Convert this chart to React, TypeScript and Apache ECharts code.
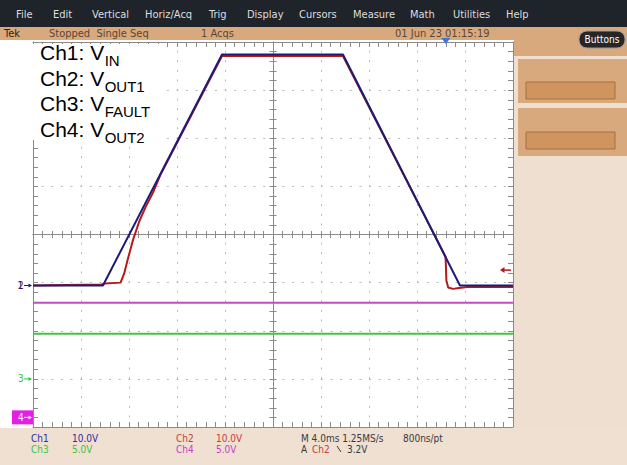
import React, { useEffect, useRef } from "react";
import * as echarts from "echarts";

// ---- Acquisition settings ----
const TIME_MIN_MS = 0;
const TIME_MAX_MS = 40;
const TIME_PER_DIV_MS = 4;
const DIV_MIN = -4;
const DIV_MAX = 4;

// ---- Channel data (time in ms, value in volts) ----
const CH1_TIME_MS = [0, 5.83, 15.75, 25.83, 35.58, 40];
const CH1_VOLTS = [0, 0, 48, 48, 0, 0];

const CH2_TIME_MS = [0, 5.7, 6.0, 7.3, 7.6, 7.85, 8.35, 8.85, 9.4, 10.0, 10.6, 15.75, 25.83, 34.38, 34.45, 34.6, 35.0, 35.5, 36.2, 40];
const CH2_VOLTS = [0, 0.2, 0.4, 0.6, 2.5, 5.0, 9.6, 13.3, 16.4, 19.3, 22.9, 47.7, 47.7, 6.0, 1.0, -0.4, -0.7, -0.5, -0.3, -0.3];

const CH3_TIME_MS = [0, 40];
const CH3_VOLTS = [4.7, 4.7];

const CH4_TIME_MS = [0, 40];
const CH4_VOLTS = [11.9, 11.9];

const CHANNEL_NAMES = ["Ch1", "Ch2", "Ch3", "Ch4"];
const VOLTS_PER_DIV = [10, 10, 5, 5];
const GROUND_DIV = [-1.06, -1.06, -3.0, -3.8];
const TRIGGER_TIME_MS = 34.4;
const TRIGGER_LEVEL_V = 3.2;
const SAMPLE_RATE = "1.25MS/s";
const RESOLUTION = "800ns/pt";

const LEGEND_MAIN = ["Ch1: V", "Ch2: V", "Ch3: V", "Ch4: V"];
const LEGEND_SUB = ["IN", "OUT1", "FAULT", "OUT2"];

const MENU_ITEMS = ["File", "Edit", "Vertical", "Horiz/Acq", "Trig", "Display", "Cursors", "Measure", "Math", "Utilities", "Help"];
const STATUS_ITEMS = ["Tek", "Stopped  Single Seq", "1 Acqs", "01 Jun 23 01:15:19"];

// ---- Layout / style ----
const MENU_X = [16, 53, 92, 145, 209, 247, 299, 353, 410, 453, 506];
const STATUS_X = [4, 49, 201, 395];
const LEGEND_BASELINES = [60, 85.5, 111, 136.5];
const TRACE_COLORS = ["#1c1c78", "#b41a1a", "#44c244", "#c24cc2"];
const TEXT_COLORS = ["#2c2ca0", "#c83c3c", "#3cc43c", "#c83cc8"];
const FRAME = "#8a8a8a";
const GRID_DOT = "#b9b9b9";
const UI_FONT = "'Liberation Sans Narrow', 'DejaVu Sans Condensed', 'Liberation Sans', sans-serif";
const LEGEND_FONT = "'Liberation Sans', Arial, sans-serif";
const MAIN_SIZE = 21;
const SUB_SIZE = 15;

const GRID = { left: 33, top: 42, width: 480, height: 385 };

function makeX(position: string, offset: number, inside: boolean, len: number, split: boolean) {
  return {
    type: "value",
    min: TIME_MIN_MS,
    max: TIME_MAX_MS,
    interval: TIME_PER_DIV_MS,
    position,
    offset,
    axisLabel: { show: false },
    axisLine: { show: true, onZero: false, lineStyle: { color: FRAME, width: 1 } },
    axisTick: { show: true, inside, length: len, lineStyle: { color: FRAME, width: 1 } },
    minorTick: { show: true, splitNumber: 5, length: len, lineStyle: { color: FRAME, width: 1 } },
    splitLine: split
      ? { show: true, lineStyle: { color: GRID_DOT, width: 1, type: [2, 7.6], dashOffset: 1 } }
      : { show: false },
    minorSplitLine: { show: false },
  };
}

function makeY(position: string, offset: number, inside: boolean, len: number, split: boolean) {
  return {
    type: "value",
    min: DIV_MIN,
    max: DIV_MAX,
    interval: 1,
    position,
    offset,
    axisLabel: { show: false },
    axisLine: { show: true, onZero: false, lineStyle: { color: FRAME, width: 1 } },
    axisTick: { show: true, inside, length: len, lineStyle: { color: FRAME, width: 1 } },
    minorTick: { show: true, splitNumber: 5, length: len, lineStyle: { color: FRAME, width: 1 } },
    splitLine: split
      ? { show: true, lineStyle: { color: GRID_DOT, width: 1, type: [2, 7.63], dashOffset: 1 } }
      : { show: false },
    minorSplitLine: { show: false },
  };
}

function toDiv(times: number[], volts: number[], ch: number) {
  return times.map((t, i) => [t, GROUND_DIV[ch] + volts[i] / VOLTS_PER_DIV[ch]]);
}

function txt(x: number, y: number, text: string, fill: string, font: string, z = 20, align = "left") {
  return {
    type: "text",
    x,
    y,
    z,
    silent: true,
    style: { text, fill, font, align, verticalAlign: "middle", textAlign: align, textVerticalAlign: "middle" },
  };
}

export default function App() {
  const ref = useRef<HTMLDivElement>(null);

  useEffect(() => {
    if (!ref.current) return;
    const chart = echarts.init(ref.current, null, { renderer: "svg" });
    const centerYOffset = -GRID.height / 2;
    const centerXOffset = -GRID.width / 2;

    const seriesDefs = [
      { ch: 2, data: toDiv(CH3_TIME_MS, CH3_VOLTS, 2) },
      { ch: 3, data: toDiv(CH4_TIME_MS, CH4_VOLTS, 3) },
      { ch: 1, data: toDiv(CH2_TIME_MS, CH2_VOLTS, 1) },
      { ch: 0, data: toDiv(CH1_TIME_MS, CH1_VOLTS, 0) },
    ];

    chart.setOption({
      animation: false,
      backgroundColor: "#ffffff",
      grid: { ...GRID, containLabel: false },
      xAxis: [
        makeX("bottom", 0, true, 5, true),
        makeX("top", 0, true, 5, false),
        makeX("bottom", centerYOffset, true, 3.5, false),
        makeX("bottom", centerYOffset, false, 3.5, false),
      ],
      yAxis: [
        makeY("left", 0, true, 5, true),
        makeY("right", 0, true, 5, false),
        makeY("left", centerXOffset, true, 3.5, false),
        makeY("left", centerXOffset, false, 3.5, false),
      ],
      series: seriesDefs.map((s) => ({
        type: "line",
        name: CHANNEL_NAMES[s.ch],
        xAxisIndex: 0,
        yAxisIndex: 0,
        data: s.data,
        symbol: "none",
        silent: true,
        lineStyle: { color: TRACE_COLORS[s.ch], width: 2 },
        z: 3,
      })),
    });

    const py = (v: number) => chart.convertToPixel({ yAxisIndex: 0 }, v) as number;
    const px = (v: number) => chart.convertToPixel({ xAxisIndex: 0 }, v) as number;

    // text measurement for subscripts
    const canvas = document.createElement("canvas");
    const ctx = canvas.getContext("2d")!;
    ctx.font = `${MAIN_SIZE}px ${LEGEND_FONT}`;

    const els: any[] = [];
    // menu bar
    els.push({ type: "rect", shape: { x: 0, y: 0, width: 627, height: 27 }, style: { fill: "#1f232a" }, z: 1, silent: true });
    MENU_ITEMS.forEach((m, i) => els.push(txt(MENU_X[i], 14, m, "#dedede", `11px ${UI_FONT}`)));
    // status bar
    els.push({ type: "rect", shape: { x: 0, y: 27, width: 627, height: 13 }, style: { fill: "#d9a97e" }, z: 1, silent: true });
    STATUS_ITEMS.forEach((s, i) => els.push(txt(STATUS_X[i], 33.5, s, i === 0 ? "#2a2018" : "#5a4634", `11px ${UI_FONT}`)));
    // right panel
    els.push({ type: "rect", shape: { x: 514, y: 40, width: 113, height: 425 }, style: { fill: "#efdfd0" }, z: 1, silent: true });
    els.push({ type: "rect", shape: { x: 514, y: 40, width: 113, height: 16 }, style: { fill: "#d9a97e" }, z: 1, silent: true });
    els.push({ type: "rect", shape: { x: 518, y: 59, width: 109, height: 44 }, style: { fill: "#d9a97e" }, z: 1, silent: true });
    els.push({ type: "rect", shape: { x: 518, y: 108, width: 109, height: 48 }, style: { fill: "#d9a97e" }, z: 1, silent: true });
    [82, 132].forEach((yy) =>
      els.push({ type: "rect", shape: { x: 526, y: yy, width: 89, height: 17 }, style: { fill: "#d0955f", stroke: "#a56e40", lineWidth: 1 }, z: 2, silent: true })
    );
    els.push({ type: "rect", shape: { x: 579, y: 31, width: 46, height: 17, r: 8 }, style: { fill: "#262626", stroke: "#9a9a9a", lineWidth: 1 }, z: 2, silent: true });
    els.push(txt(602, 39.5, "Buttons", "#ffffff", `10px ${UI_FONT}`, 3, "center"));
    // bottom panel
    els.push({ type: "rect", shape: { x: 0, y: 428, width: 627, height: 37 }, style: { fill: "#efe0d2" }, z: 1, silent: true });
    const row1 = 438, row2 = 449;
    const bf = `10px ${UI_FONT}`;
    els.push(txt(31, row1, CHANNEL_NAMES[0], TEXT_COLORS[0], bf));
    els.push(txt(72, row1, `${VOLTS_PER_DIV[0].toFixed(1)}V`, TEXT_COLORS[0], bf));
    els.push(txt(31, row2, CHANNEL_NAMES[2], TEXT_COLORS[2], bf));
    els.push(txt(72, row2, `${VOLTS_PER_DIV[2].toFixed(1)}V`, TEXT_COLORS[2], bf));
    els.push(txt(176, row1, CHANNEL_NAMES[1], TEXT_COLORS[1], bf));
    els.push(txt(216, row1, `${VOLTS_PER_DIV[1].toFixed(1)}V`, TEXT_COLORS[1], bf));
    els.push(txt(176, row2, CHANNEL_NAMES[3], TEXT_COLORS[3], bf));
    els.push(txt(216, row2, `${VOLTS_PER_DIV[3].toFixed(1)}V`, TEXT_COLORS[3], bf));
    els.push(txt(301, row1, `M ${TIME_PER_DIV_MS.toFixed(1)}ms ${SAMPLE_RATE}`, "#3a3a3a", bf));
    els.push(txt(403, row1, RESOLUTION, "#3a3a3a", bf));
    els.push(txt(301, row2, "A", "#3a3a3a", bf));
    els.push(txt(312, row2, CHANNEL_NAMES[1], TEXT_COLORS[1], bf));
    els.push({ type: "line", shape: { x1: 337, y1: row2 - 3, x2: 341, y2: row2 + 3 }, style: { stroke: "#3a3a3a", lineWidth: 1 }, z: 20, silent: true });
    els.push(txt(347, row2, `${TRIGGER_LEVEL_V.toFixed(1)}V`, "#3a3a3a", bf));

    // legend box
    els.push({ type: "rect", shape: { x: 29, y: 44, width: 134, height: 96 }, style: { fill: "#ffffff" }, z: 50, silent: true });
    LEGEND_MAIN.forEach((m, i) => {
      const w = ctx.measureText(m).width;
      const b = LEGEND_BASELINES[i];
      els.push(txt(40, b - 0.3465 * MAIN_SIZE, m, "#000000", `${MAIN_SIZE}px ${LEGEND_FONT}`, 51));
      els.push(txt(40 + w + 0.5, b + 6 - 0.3465 * SUB_SIZE, LEGEND_SUB[i], "#000000", `${SUB_SIZE}px ${LEGEND_FONT}`, 51));
    });

    // channel ground markers
    const markerArrow = (y: number, color: string) => [
      { type: "line", shape: { x1: 24, y1: y, x2: 31, y2: y }, style: { stroke: color, lineWidth: 1 }, z: 21, silent: true },
      { type: "polygon", shape: { points: [[32, y], [28.5, y - 2], [28.5, y + 2]] }, style: { fill: color }, z: 21, silent: true },
    ];
    const y2 = py(GROUND_DIV[1]);
    els.push(txt(18, y2, "2", "#8a2a2a", `10px ${UI_FONT}`, 21));
    const y1 = py(GROUND_DIV[0]);
    els.push(txt(17.5, y1, "1", TRACE_COLORS[0], `10px ${UI_FONT}`, 22));
    els.push(...markerArrow(y1, TRACE_COLORS[0]));
    const y3 = py(GROUND_DIV[2]);
    els.push(txt(18, y3, "3", TEXT_COLORS[2], `10px ${UI_FONT}`, 21));
    els.push(...markerArrow(y3, TEXT_COLORS[2]));
    const y4 = py(GROUND_DIV[3]);
    els.push({ type: "rect", shape: { x: 12, y: y4 - 7, width: 21, height: 14 }, style: { fill: "#e41ee4" }, z: 20, silent: true });
    els.push(txt(18, y4, "4", "#ffffff", `10px ${UI_FONT}`, 21));
    els.push(...markerArrow(y4, "#ffffff"));

    // trigger level arrow (right) and trigger position (top)
    const yt = py(GROUND_DIV[1] + TRIGGER_LEVEL_V / VOLTS_PER_DIV[1]);
    els.push({ type: "line", shape: { x1: 503, y1: yt, x2: 511, y2: yt }, style: { stroke: TRACE_COLORS[1], lineWidth: 1.5 }, z: 21, silent: true });
    els.push({ type: "polygon", shape: { points: [[500, yt], [504.5, yt - 3], [504.5, yt + 3]] }, style: { fill: TRACE_COLORS[1] }, z: 21, silent: true });
    const xt = px(TRIGGER_TIME_MS);
    els.push({ type: "polygon", shape: { points: [[xt - 4.5, 38], [xt + 4.5, 38], [xt, 44]] }, style: { fill: "#3f74dc" }, z: 21, silent: true });

    chart.setOption({ graphic: { elements: els } });

    return () => chart.dispose();
  }, []);

  return <div ref={ref} style={{ position: "fixed", left: 0, top: 0, width: 627, height: 465 }} />;
}
